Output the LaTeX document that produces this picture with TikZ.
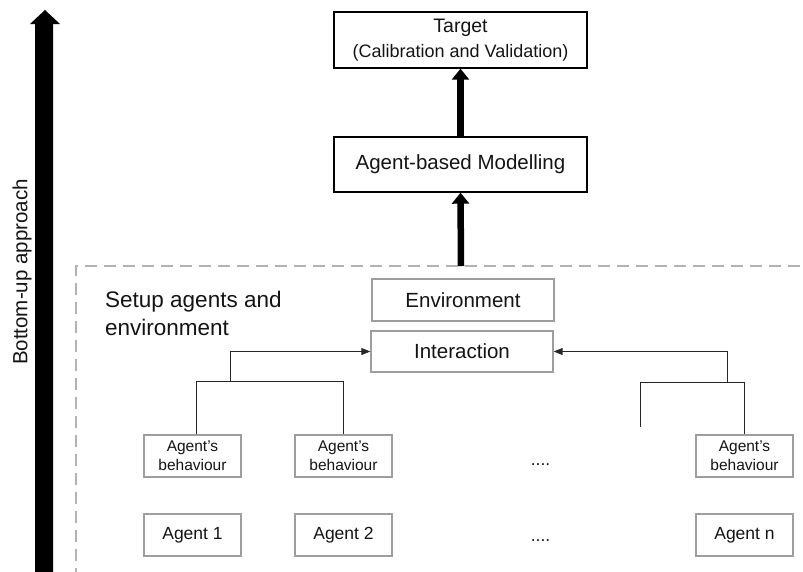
\documentclass[tikz,border=0pt]{standalone}
\usepackage{fontspec}
\setmainfont{Liberation Sans}
\usetikzlibrary{arrows.meta,calc}
\begin{document}
\begin{tikzpicture}[x=1pt,y=-1pt,
  blackbox/.style={draw=black,line width=1.4pt,inner sep=0pt,align=center,text=black!92,
    minimum width=253pt},
  graybox/.style={draw=black!38,line width=1.4pt,inner sep=0pt,align=center,text=black!92},
  agentbox/.style={graybox,minimum width=97pt,minimum height=42pt},
  conn/.style={draw=black!85,line width=1pt},
  thickarrow/.style={draw=black,line width=6.5pt,-{Triangle[width=17pt,length=11pt]}},
  smallarrow/.style={conn,-{Triangle[width=7pt,length=9pt]}},
  dotstext/.style={font=\fontsize{17.5}{20}\selectfont,inner sep=0pt,anchor=base,text=black!92},
]
\useasboundingbox (0,0) rectangle (803,571);

% big bottom-up arrow
\fill[black] (35,572) -- (35,24) -- (30,24) -- (45,10) -- (60,24) -- (53,24) -- (53,572) -- cycle;
\node[rotate=90,inner sep=0pt,font=\fontsize{20.5}{24}\selectfont,text=black!92] (bu) at (22,272) {Bottom-up approach};

% dashed region
\draw[draw=black!30,line width=1.5pt,dash pattern=on 12pt off 7pt] (76,580) -- (76,266) -- (812,266);
\node[anchor=north west,inner sep=0pt,align=left,font=\fontsize{22.5}{28}\selectfont,text=black!92] (setup) at (105,291)
  {Setup agents and\\environment};

% top boxes
\node[blackbox,minimum height=56pt,font=\fontsize{18}{25}\selectfont] (target) at (460.5,40)
  {{\fontsize{19.5}{25}\selectfont Target}\\(Calibration and Validation)};
\node[blackbox,minimum height=55pt,font=\fontsize{20.5}{24}\selectfont] (abm) at (460.5,164.5)
  {Agent-based Modelling};

\coordinate (regiontop) at (461,266);
\draw[thickarrow] (regiontop) -- (abm.south);
\draw[thickarrow] (abm.north) -- (target.south);

% environment / interaction
\node[graybox,minimum width=182pt,minimum height=42pt,font=\fontsize{20.5}{24}\selectfont] (env) at (463,300) {Environment};
\node[graybox,minimum width=182pt,minimum height=41pt,font=\fontsize{20.5}{24}\selectfont] (inter) at (462,351.5) {Interaction};

% agents' behaviour
\node[agentbox,font=\fontsize{15.5}{19}\selectfont] (ab1) at (192.5,456) {Agent’s\\behaviour};
\node[agentbox,font=\fontsize{15.5}{19}\selectfont] (ab2) at (343.5,456) {Agent’s\\behaviour};
\node[agentbox,font=\fontsize{15.5}{19}\selectfont] (abn) at (744.5,456) {Agent’s\\behaviour};
\node[dotstext] (dots1) at (540.5,465) {....};

% agents
\node[agentbox,font=\fontsize{17.5}{20}\selectfont] (a1) at (192.5,535) {Agent 1};
\node[agentbox,font=\fontsize{17.5}{20}\selectfont] (a2) at (343.5,535) {Agent 2};
\node[agentbox,font=\fontsize{17.5}{20}\selectfont] (an) at (744.5,535) {Agent n};
\node[dotstext] (dots2) at (540.5,541) {....};

% connectors
\coordinate (jL) at (230,382);
\coordinate (jR) at (727,382);
\coordinate (stray) at (640,427);
\draw[conn] ($(ab1.north)+(4,0)$) -- ++(0,-53) -| (ab2.north);
\draw[smallarrow] (jL) |- (inter.west);
\draw[conn] (stray) -- (640,382) -| (abn.north);
\draw[smallarrow] (jR) |- (inter.east);
\end{tikzpicture}
\end{document}
